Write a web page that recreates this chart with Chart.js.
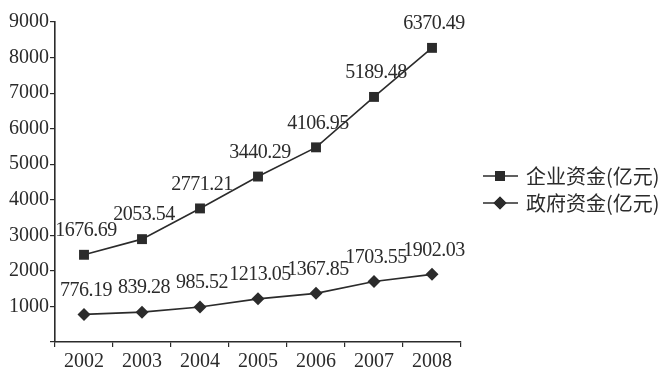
<!DOCTYPE html>
<html>
<head>
<meta charset="utf-8">
<script src="https://cdn.jsdelivr.net/npm/chart.js@4/dist/chart.umd.min.js"></script>
<style>
  html, body { margin: 0; padding: 0; background: #fff; }
  #wrap { position: relative; width: 669px; height: 370px; }
</style>
</head>
<body>
<div id="wrap"><canvas id="c"></canvas></div>
<script>
const years = ['2002', '2003', '2004', '2005', '2006', '2007', '2008'];
const govFunds = [776.19, 839.28, 985.52, 1213.05, 1367.85, 1703.55, 1902.03];
const bizFunds = [1676.69, 2053.54, 2771.21, 3440.29, 4106.95, 5189.48, 6370.49];
const seriesNames = ['企业资金(亿元)', '政府资金(亿元)'];

const INK = '#2b2b2b';
const SERIF = "'Liberation Serif', 'Times New Roman', serif";

// value labels above each point (shows the raw, unstacked value)
const valueLabels = {
    id: 'valueLabels',
    afterDatasetsDraw(chart) {
        const ctx = chart.ctx;
        ctx.save();
        ctx.font = `20px ${SERIF}`;
        ctx.letterSpacing = '-0.5px';
        ctx.fillStyle = INK;
        ctx.textAlign = 'center';
        ctx.textBaseline = 'bottom';
        chart.data.datasets.forEach((ds, i) => {
            chart.getDatasetMeta(i).data.forEach((pt, j) => {
                ctx.fillText(ds.data[j].toFixed(2), pt.x + 2, pt.y - 14);
            });
        });
        ctx.restore();
    },
};

// legend: line segment + marker + name, drawn to the right of the plot
const sideLegend = {
    id: 'sideLegend',
    afterDraw(chart) {
        const ctx = chart.ctx;
        const rows = [
            { ds: chart.data.datasets[1], y: 176 },
            { ds: chart.data.datasets[0], y: 203 },
        ];
        ctx.save();
        rows.forEach((r) => {
            ctx.strokeStyle = INK;
            ctx.lineWidth = 1.6;
            ctx.beginPath();
            ctx.moveTo(483, r.y);
            ctx.lineTo(518, r.y);
            ctx.stroke();
            ctx.fillStyle = INK;
            Chart.helpers.drawPoint(ctx, { pointStyle: r.ds.pointStyle, radius: r.ds.pointRadius, borderWidth: 0 }, 500, r.y);
            ctx.fill();
            ctx.font = "20px 'Noto Sans CJK SC', sans-serif";
            ctx.textAlign = 'left';
            ctx.textBaseline = 'middle';
            ctx.fillText(r.ds.label, 526, r.y);
        });
        ctx.restore();
    },
};

new Chart(document.getElementById('c'), {
    type: 'line',
    data: {
        labels: years,
        datasets: [
            {
                label: seriesNames[1], data: govFunds,
                borderColor: INK, backgroundColor: INK, borderWidth: 1.6,
                pointStyle: 'rectRot', pointRadius: 6.5, pointBorderWidth: 0, fill: false,
            },
            {
                label: seriesNames[0], data: bizFunds,
                borderColor: INK, backgroundColor: INK, borderWidth: 1.6,
                pointStyle: 'rect', pointRadius: 7, pointBorderWidth: 0, fill: false,
            },
        ],
    },
    options: {
        responsive: true, maintainAspectRatio: false, animation: false,
        layout: { padding: { top: 22, right: 208, left: 0, bottom: 0 } },
        plugins: { legend: { display: false }, tooltip: { enabled: false } },
        scales: {
            x: {
                offset: true,
                grid: { offset: true, drawOnChartArea: false, drawTicks: true, tickLength: 5, color: INK, lineWidth: 1.2 },
                border: { color: INK, width: 1.6 },
                ticks: { color: INK, font: { family: SERIF, size: 20 }, padding: 3, maxRotation: 0 },
                afterFit: (s) => { s.height = 28; },
            },
            y: {
                stacked: true, min: 0, max: 9000,
                grid: { drawOnChartArea: false, drawTicks: true, tickLength: 5, color: INK, lineWidth: 1.2 },
                border: { color: INK, width: 1.6 },
                ticks: { stepSize: 1000, color: INK, font: { family: SERIF, size: 20 }, padding: 1,
                    callback: (v) => (v === 0 ? '' : v) },
                afterFit: (s) => { s.width = 55; },
            },
        },
    },
    plugins: [valueLabels, sideLegend],
});
</script>
</body>
</html>
